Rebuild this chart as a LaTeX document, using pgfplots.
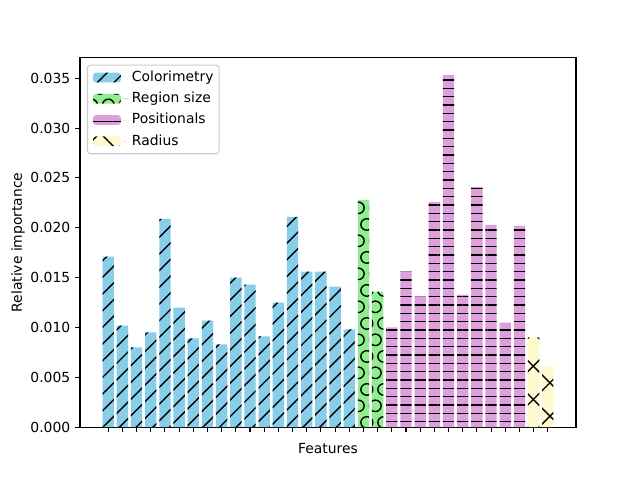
\documentclass[border=0pt]{standalone}
\usepackage{fontspec}
\setmainfont{DejaVu Sans}
\usepackage{pgfplots}
\pgfplotsset{compat=1.18}
\usetikzlibrary{patterns,patterns.meta}
\definecolor{skyblue}{HTML}{87CEEB}
\definecolor{lightgreen}{HTML}{90EE90}
\definecolor{plum}{HTML}{DDA0DD}
\definecolor{lemonchiffon}{HTML}{FFFACD}
\definecolor{legframe}{HTML}{CCCCCC}
\tikzdeclarepattern{
  name=bigcircles,
  type=uncolored,
  bounding box={(0pt,0pt) and (12pt,24pt)},
  tile size={(12pt,24pt)},
  code={
    \draw[line width=1pt] (6pt,6pt) circle (4.2pt);
    \draw[line width=1pt] (0pt,18pt) circle (4.2pt);
    \draw[line width=1pt] (12pt,18pt) circle (4.2pt);
  }
}
\begin{document}
\begin{tikzpicture}
\path[use as bounding box] (0,0) rectangle (460.8pt,345.6pt);
\begin{axis}[
  at={(57.6pt,38.016pt)}, anchor=south west,
  width=357.12pt, height=266.11pt, scale only axis,
  xmin=-1.99, xmax=32.99, ymin=0, ymax=0.03707,
  ybar, bar width=0.8, bar shift=0pt,
  xtick={0,...,31}, xticklabel={\relax},
  ytick={0,0.005,0.01,0.015,0.02,0.025,0.03,0.035},
  scaled y ticks=false,
  /pgf/number format/assume math mode=true,
  yticklabel style={/pgf/number format/fixed, /pgf/number format/fixed zerofill, /pgf/number format/precision=3, font=\fontsize{10}{12}\selectfont},
  tick align=outside, tick pos=left, major tick length=3.5pt,
  every tick/.style={black, line width=0.8pt},
  axis line style={line width=0.8pt},
  xlabel={Features}, ylabel={Relative importance},
  xlabel style={at={(axis description cs:0.5,-0.0568)}, anchor=center, inner sep=0pt, font=\fontsize{10}{12}\selectfont},
  ylabel style={at={(axis description cs:-0.125,0.5)}, anchor=center, rotate=0, inner sep=0pt, font=\fontsize{10}{12}\selectfont},
  legend cell align=left,
  legend image code/.code={\path[#1] (0pt,-3.5pt) rectangle (20pt,3.5pt); \path (0pt,0pt) -- (28pt,0pt);},
  legend style={at={(0.014,0.981)}, anchor=north west, draw=legframe, line width=0.8pt, fill=white, rounded corners=2pt,
    inner xsep=4pt, inner ysep=4pt, row sep=5.4pt, column sep=0pt,
    font=\fontsize{10}{12}\selectfont,
    nodes={inner sep=0pt, text height=7.6pt, text depth=2.3pt}},
]
\addplot[fill=skyblue, draw=none, postaction={pattern={Lines[angle=45,distance=8.49pt,line width=1pt]}, pattern color=black}]
coordinates {(0,0.0171)(1,0.0102)(2,0.0080)(3,0.0095)(4,0.0209)(5,0.0120)(6,0.0089)(7,0.0107)(8,0.0083)(9,0.0150)(10,0.0143)(11,0.0091)(12,0.0125)(13,0.0211)(14,0.0156)(15,0.0156)(16,0.0141)(17,0.0098)};
\addlegendentry{Colorimetry}
\addplot[fill=lightgreen, draw=none, postaction={pattern=bigcircles, pattern color=black}]
coordinates {(18,0.0228)(19,0.0136)};
\addlegendentry{Region size}
\addplot[fill=plum, draw=none, postaction={pattern={Lines[angle=0,distance=6pt,line width=1pt]}, pattern color=black}]
coordinates {(20,0.0100)(21,0.0156)(22,0.0131)(23,0.0226)(24,0.0353)(25,0.0133)(26,0.0241)(27,0.0203)(28,0.0105)(29,0.0202)};
\addlegendentry{Positionals}
\addplot[fill=lemonchiffon, draw=none, postaction={pattern={Lines[angle=45,distance=16.97pt,line width=1pt,yshift=10pt]}, pattern color=black}, postaction={pattern={Lines[angle=-45,distance=16.97pt,line width=1pt,yshift=10pt]}, pattern color=black}]
coordinates {(30,0.0090)(31,0.0061)};
\addlegendentry{Radius}
\end{axis}
\end{tikzpicture}
\end{document}
